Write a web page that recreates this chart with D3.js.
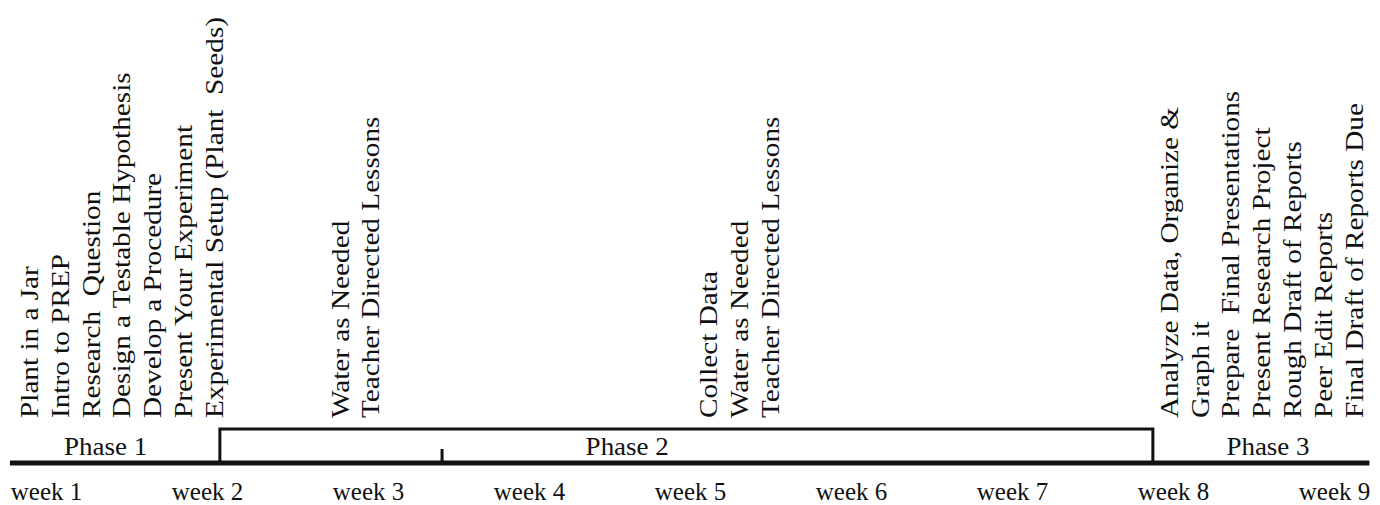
<!DOCTYPE html>
<html>
<head>
<meta charset="utf-8">
<script src="https://cdn.jsdelivr.net/npm/d3@7"></script>
<style>
  html, body { margin: 0; padding: 0; background: #fff; }
  svg { display: block; }
  text { font-family: "Liberation Serif", "Times New Roman", serif; fill: #111; }
</style>
</head>
<body>
<svg id="chart" width="1380" height="505"></svg>
<script>
// ---- data ----
const weeks = [1, 2, 3, 4, 5, 6, 7, 8, 9];
const weekLabels = ["week 1", "week 2", "week 3", "week 4", "week 5", "week 6", "week 7", "week 8", "week 9"];

// activity groups: starting week (position of first column) and the labels
const groupWeeks = [0.95, 2.88, 5.17, 8.03];
const groupLabels = [
  ["Plant in a Jar", "Intro to PREP", "Research  Question", "Design a Testable Hypothesis",
   "Develop a Procedure", "Present Your Experiment", "Experimental Setup (Plant  Seeds)"],
  ["Water as Needed", "Teacher Directed Lessons"],
  ["Collect Data", "Water as Needed", "Teacher Directed Lessons"],
  ["Analyze Data, Organize &", "Graph it", "Prepare  Final Presentations", "Present Research Project",
   "Rough Draft of Reports", "Peer Edit Reports", "Final Draft of Reports Due"]
];

const phaseNames = ["Phase 1", "Phase 2", "Phase 3"];
const phaseLabelWeeks = [1.37, 4.61, 8.59];
const phase2Span = [2.08, 7.875];   // boxed phase 2 interval
const midTickWeek = 3.46;
const timelineSpan = [0.776, 9.22];

// ---- layout ----
const svg = d3.select("#chart");
const x = d3.scaleLinear().domain([1, 9]).range([46, 1334]);
const baseY = 463;
const boxTop = 429;
const colStep = 30.8;
const textBottom = 418;

// timeline axis with week labels
const axis = d3.axisBottom(x)
  .tickValues(weeks)
  .tickSize(0)
  .tickPadding(0)
  .tickFormat((d, i) => weekLabels[i]);

const axisG = svg.append("g")
  .attr("transform", `translate(0,${baseY})`)
  .call(axis);
axisG.select(".domain").remove();
axisG.selectAll("text")
  .attr("dy", null)
  .attr("y", 37)
  .style("font-family", '"Liberation Serif", "Times New Roman", serif')
  .style("font-size", "25px")
  .attr("fill", "#111");

// main thick line
svg.append("line")
  .attr("x1", x(timelineSpan[0])).attr("x2", x(timelineSpan[1]))
  .attr("y1", baseY).attr("y2", baseY)
  .attr("stroke", "#111").attr("stroke-width", 5);

// phase 2 box
svg.append("path")
  .attr("d", d3.line()([
    [x(phase2Span[0]), baseY],
    [x(phase2Span[0]), boxTop],
    [x(phase2Span[1]), boxTop],
    [x(phase2Span[1]), baseY]
  ]))
  .attr("fill", "none")
  .attr("stroke", "#111")
  .attr("stroke-width", 3);

// small tick
svg.append("line")
  .attr("x1", x(midTickWeek)).attr("x2", x(midTickWeek))
  .attr("y1", baseY - 14).attr("y2", baseY)
  .attr("stroke", "#111").attr("stroke-width", 3);

// phase labels
svg.selectAll("text.phase")
  .data(phaseNames)
  .join("text")
  .attr("class", "phase")
  .attr("text-anchor", "middle")
  .attr("transform", (d, i) => `translate(${x(phaseLabelWeeks[i])},455) scale(1.08,1)`)
  .style("font-size", "25px")
  .style("white-space", "pre")
  .text(d => d);

// activity labels (rotated)
const flat = [];
groupLabels.forEach((labels, g) => {
  labels.forEach((t, j) => flat.push({ text: t, px: x(groupWeeks[g]) + j * colStep }));
});

svg.selectAll("text.act")
  .data(flat)
  .join("text")
  .attr("class", "act")
  .attr("transform", d => `translate(${d.px},${textBottom}) rotate(-90) scale(1.17,1)`)
  .style("font-size", "25px")
  .style("white-space", "pre")
  .text(d => d.text);
</script>
</body>
</html>
